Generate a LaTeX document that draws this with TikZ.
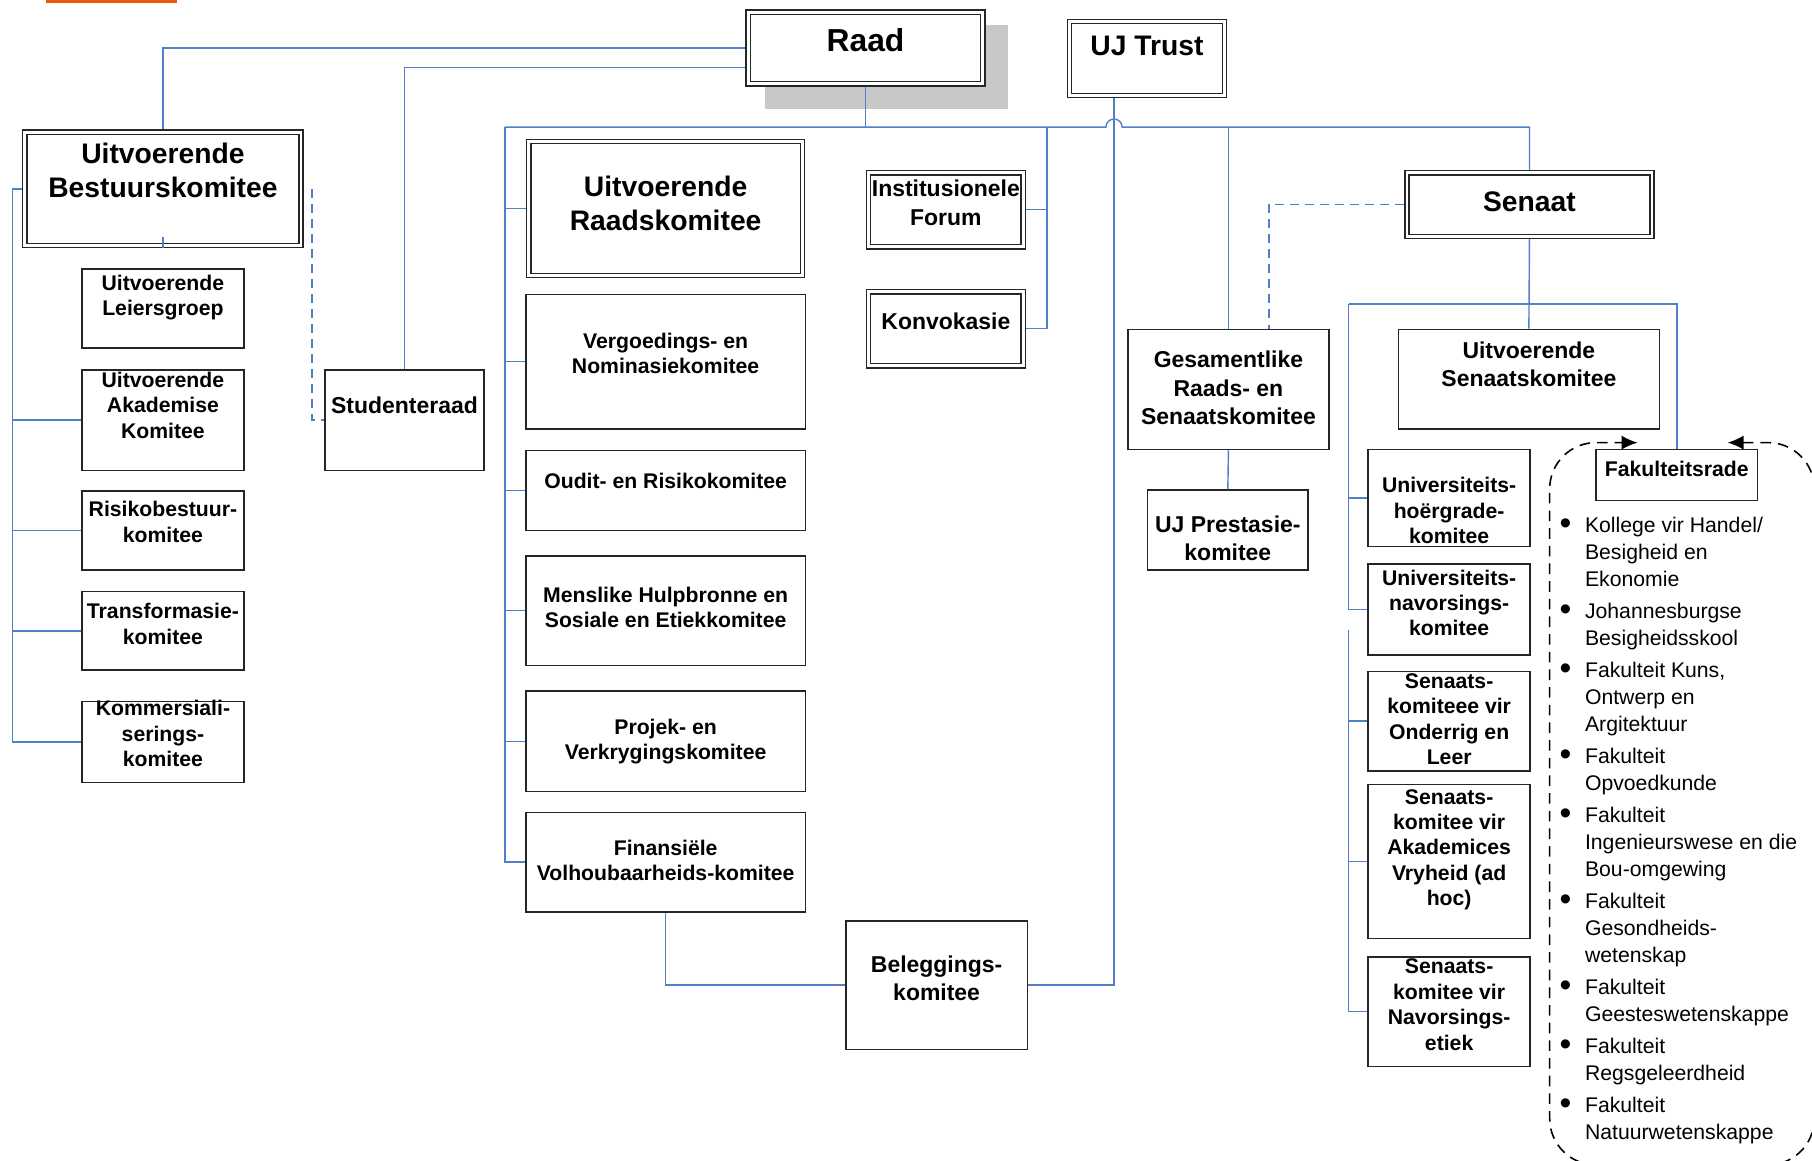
\documentclass[tikz,border=0pt]{standalone}
\usepackage{fontspec}
\setmainfont{Liberation Sans}
\usetikzlibrary{arrows.meta, positioning}
\definecolor{cline}{HTML}{5080C8}
\definecolor{cbox}{HTML}{262626}
\definecolor{cshadow}{HTML}{C8C8C8}
\definecolor{corange}{HTML}{E8590C}
\newlength{\ux}\setlength{\ux}{0.023cm}
% box text: width, height, top gap, lines
\newcommand{\bx}[4]{\parbox[c][#2\ux][t]{#1\ux}{\centering\vspace{#3\ux}#4\par}}
\newcommand{\fbul}{\makebox[22\ux][l]{\raisebox{-0.8pt}{\fontsize{19}{15}\selectfont\textbullet}}}
\tikzset{
  every picture/.style={line width=0.8pt},
  box/.style={draw=cbox, fill=white, inner sep=0pt, line width=0.9pt, font=\fontsize{12}{14.4}\selectfont\bfseries},
  dbox/.style={box, double=white, double distance=1.6pt, line width=0.8pt, outer sep=1.6pt},
  big/.style={font=\fontsize{16}{19.3}\selectfont\bfseries},
  mid/.style={font=\fontsize{13}{16}\selectfont\bfseries},
  link/.style={draw=cline, line width=0.8pt},
  dlink/.style={link, dash pattern=on 5pt off 3.5pt},
}

\begin{document}
\begin{tikzpicture}[x=0.023cm, y=-0.023cm, lst/.style={anchor=north west, inner sep=0pt, font=\fontsize{12}{15.3}\selectfont}, fakline/.style={draw=black, line width=0.9pt, dash pattern=on 6pt off 4pt, rounded corners=0.92cm, {Latex[length=9pt, width=8pt]}-{Latex[length=9pt, width=8pt]}}]
\useasboundingbox (0,0) rectangle (1568,1004);
\clip (0,0) rectangle (1568,1004);
\fill[corange] (40,0) rectangle (153,2.5);
% Raad en UJ Trust
\fill[cshadow] (662,22) rectangle (872,94);
\node[dbox, font=\fontsize{18}{21}\selectfont\bfseries] (raad) at (749,41.5) {\bx{203}{62}{14}{Raad}};
\node[dbox, big] (trust) at (992.5,50.5) {\bx{134}{64}{13}{UJ Trust}};
% Uitvoerende Bestuurskomitee
\node[dbox, big] (ubk) at (141,163.5) {\bx{239}{98}{9.5}{Uitvoerende\\Bestuurskomitee}};
\node[box] (lg) at (141,267) {\bx{140}{68}{5}{Uitvoerende\\Leiersgroep}};
\node[box] (akad) at (141,363.5) {\bx{140}{87}{2}{Uitvoerende\\Akademise\\Komitee}};
\node[box] (risk) at (141,459) {\bx{140}{68}{9}{Risikobestuur-\\komitee}};
\node[box] (trans) at (141,546) {\bx{140}{68}{10}{Transformasie-\\komitee}};
\node[box] (komm) at (141,642) {\bx{140}{70}{-1}{Kommersiali-\\serings-\\komitee}};
\node[box, mid] (stud) at (350,363.5) {\bx{138}{87}{23}{Studenteraad}};
% Raadskomitees
\node[dbox, big] (urk) at (576,180.5) {\bx{237}{116}{29.5}{Uitvoerende\\Raadskomitee}};
\node[box] (verg) at (576,313) {\bx{242}{116}{33}{Vergoedings- en\\Nominasiekomitee}};
\node[box] (oudit) at (576,424.5) {\bx{242}{69}{19}{Oudit- en Risikokomitee}};
\node[box] (mens) at (576,528.5) {\bx{242}{95}{27}{Menslike Hulpbronne en\\Sosiale en Etiekkomitee}};
\node[box] (proj) at (576,641.5) {\bx{242}{87}{24}{Projek- en\\Verkrygingskomitee}};
\node[box] (fin) at (576,746) {\bx{242}{86}{24}{Finansiële\\Volhoubaarheids-komitee}};
\node[box, mid] (bel) at (810.5,852.5) {\bx{157}{111}{30}{Beleggings-\\komitee}};
\node[dbox, mid] (inst) at (818.5,181.5) {\bx{134}{64}{6.5}{Institusionele\\Forum}};
\node[dbox, mid] (konv) at (818.5,284.5) {\bx{134}{64}{18.5}{Konvokasie}};
% Senaat
\node[dbox, big] (sen) at (1323.5,177) {\bx{212}{55}{16.5}{Senaat}};
\node[box, mid] (gesam) at (1063,337) {\bx{174}{104}{19}{Gesamentlike\\Raads- en\\Senaatskomitee}};
\node[box, mid] (ujp) at (1062.5,458.5) {\bx{139}{69}{22}{UJ Prestasie-\\komitee}};
\node[box, mid] (usk) at (1323,328) {\bx{226}{86}{11}{Uitvoerende\\Senaatskomitee}};
\node[box] (hoer) at (1254,431) {\bx{140}{84}{24}{Universiteits-\\hoërgrade-\\komitee}};
\node[box] (nav) at (1254,527.5) {\bx{140}{79}{5}{Universiteits-\\navorsings-\\komitee}};
\node[box] (ond) at (1254,624) {\bx{140}{86}{2}{Senaats-\\komiteee vir\\Onderrig en\\Leer}};
\node[box] (akv) at (1254,745.5) {\bx{140}{133}{4}{Senaats-\\komitee vir\\Akademices\\Vryheid (ad\\hoc)}};
\node[box] (etk) at (1254,875.5) {\bx{140}{95}{2}{Senaats-\\komitee vir\\Navorsings-\\etiek}};
% Fakulteitsrade
\node[box] (fak) at (1451,411) {\bx{140}{44}{10}{Fakulteitsrade}};
\node[lst] (fl) at (1349,444) {\begin{tabular}{@{}l@{}l@{}}
\fbul & Kollege vir Handel/\\
 & Besigheid en\\
 & Ekonomie\\[2.8pt]
\fbul & Johannesburgse\\
 & Besigheidsskool\\[2.8pt]
\fbul & Fakulteit Kuns,\\
 & Ontwerp en\\
 & Argitektuur\\[2.8pt]
\fbul & Fakulteit\\
 & Opvoedkunde\\[2.8pt]
\fbul & Fakulteit\\
 & Ingenieurswese en die\\
 & Bou-omgewing\\[2.8pt]
\fbul & Fakulteit\\
 & Gesondheids-\\
 & wetenskap\\[2.8pt]
\fbul & Fakulteit\\
 & Geesteswetenskappe\\[2.8pt]
\fbul & Fakulteit\\
 & Regsgeleerdheid\\[2.8pt]
\fbul & Fakulteit\\
 & Natuurwetenskappe
\end{tabular}};
\draw[fakline] (1495,383) -- (1570,383) -- (1570,1008) -- (1341,1008) -- (1341,383) -- (1417,383);
% links
\coordinate (busL) at (437,110);
\coordinate (busR) at (1323.5,110);
\coordinate (busI) at (906,110);
\coordinate (lb) at (11,163.5);
\coordinate (dx) at (270,163.5);
\coordinate (sL) at (1167,263);
\coordinate (sL2) at (1167,545);
\draw[link] (raad.west) -| (ubk.north);
\draw[link] ([yshift=-17\ux]raad.west) -| (stud.north);
\draw[link] (raad.south) -- (raad.south |- busL);
\draw[link] (busL) -- (957,110) arc[start angle=180, end angle=0, radius=7\ux] -- (busR) -- (sen.north);
\draw[link] (busL) |- (fin.west);
\foreach \n in {urk,verg,oudit,mens,proj} \draw[link] (\n.west) -- (\n.west -| busL);
\draw[link] (busI) |- (konv.east);
\draw[link] (inst.east) -- (inst.east -| busI);
\draw[link] (gesam.north |- busL) -- (gesam.north);
\draw[link] ([xshift=-28.5\ux]trust.south) |- (bel.east);
\draw[link] (fin.south) |- (bel.west);
\draw[link] (gesam.south) -- (ujp.north);
\draw[dlink] (sen.west) -| ([xshift=35\ux]gesam.north);
\draw[link] (sen.south) -- (usk.north);
\draw[link] (sL) -| (fak.north);
\draw[link] (sL) |- (nav.west);
\draw[link] (hoer.west) -- (hoer.west -| sL);
\draw[link] (sL2) |- (etk.west);
\foreach \n in {ond,akv} \draw[link] (\n.west) -- (\n.west -| sL2);
\draw[link] (ubk.west) -- (lb) |- (komm.west);
\foreach \n in {akad,risk,trans} \draw[link] (\n.west) -- (\n.west -| lb);
\draw[link] (ubk.south) -- ++(0,-10);
\draw[dlink] (dx) |- (stud.west);
\end{tikzpicture}
\end{document}
